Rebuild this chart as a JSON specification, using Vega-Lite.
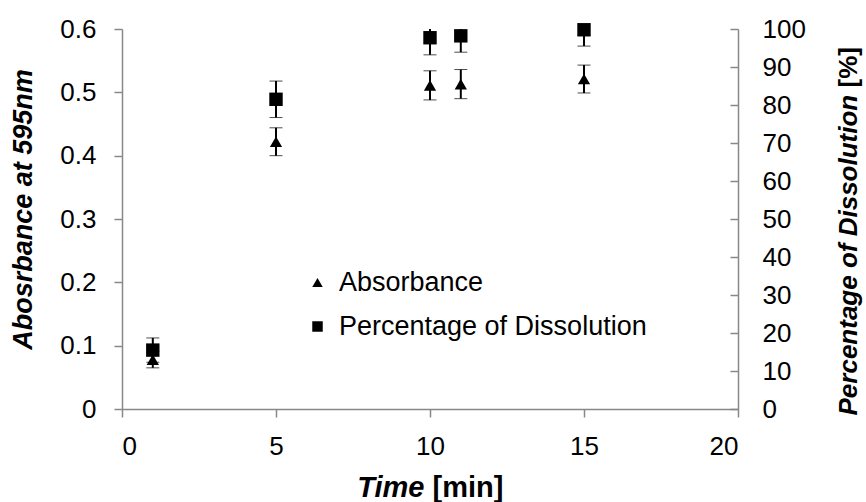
{
  "$schema": "https://vega.github.io/schema/vega-lite/v6.json",
  "autosize": {"type": "none"},
  "padding": {"left": 122, "top": 29, "right": 128, "bottom": 93},
  "width": 616,
  "height": 380,
  "background": "white",
  "config": {
    "view": {"stroke": null},
    "font": "Liberation Sans",
    "axis": {
      "grid": false,
      "domainColor": "#888888",
      "domainWidth": 1.5,
      "tickColor": "#888888",
      "tickWidth": 1.5,
      "tickSize": 8,
      "labelOverlap": false,
      "labelFont": "Liberation Sans",
      "labelFontSize": 26,
      "labelColor": "black",
      "titleFont": "Liberation Sans",
      "titleFontSize": 27,
      "titleFontWeight": "bold",
      "titleFontStyle": "italic",
      "titleColor": "black"
    },
    "legend": {"labelFont": "Liberation Sans", "labelFontSize": 27, "labelColor": "black"}
  },
  "datasets": {
    "abs": [
      {"time": 1, "value": 0.078, "err": 0.013},
      {"time": 5, "value": 0.422, "err": 0.022},
      {"time": 10, "value": 0.511, "err": 0.023},
      {"time": 11, "value": 0.513, "err": 0.023},
      {"time": 15, "value": 0.521, "err": 0.022}
    ],
    "pct": [
      {"time": 1, "value": 15.5, "err": 3.2},
      {"time": 5, "value": 81.5, "err": 4.8},
      {"time": 10, "value": 97.7, "err": 4.5},
      {"time": 11, "value": 98.2, "err": 4.3},
      {"time": 15, "value": 99.8, "err": 4.3}
    ]
  },
  "layer": [
    {
      "data": {"name": "abs"},
      "encoding": {
        "x": {
          "field": "time", "type": "quantitative", "title": "Time",
          "scale": {"domain": [0, 20], "nice": false},
          "axis": {"orient": "bottom", "values": [0, 5, 10, 15, 20], "labelPadding": 16, "titleFontSize": 29, "titleAlign": "right", "titleX": 302, "titleY": 64, "titleBaseline": "top"}
        },
        "y": {
          "field": "value", "type": "quantitative", "title": "Abosrbance at 595nm",
          "scale": {"domain": [0, 0.6], "nice": false},
          "axis": {"orient": "left", "values": [0, 0.1, 0.2, 0.3, 0.4, 0.5, 0.6], "format": "~g", "labelPadding": 18, "titlePadding": 22, "titleY": 180}
        }
      },
      "layer": [
        {
          "mark": {"type": "errorbar", "ticks": {"size": 13, "color": "black", "strokeWidth": 2}, "rule": {"color": "black", "strokeWidth": 2}},
          "encoding": {
            "yError": {"field": "err"}
          }
        },
        {
          "mark": {"type": "point", "filled": true, "opacity": 1, "color": "black", "size": 150},
          "encoding": {
            "shape": {
              "datum": "Absorbance",
              "scale": {"domain": ["Absorbance", "Percentage of Dissolution"], "range": ["triangle-up", "square"]},
              "legend": {"title": null, "orient": "none", "legendX": 182, "legendY": 240, "symbolSize": 110, "symbolFillColor": "black", "symbolStrokeColor": "black", "rowPadding": 16, "labelOffset": 8, "labelLimit": 0}
            }
          }
        }
      ]
    },
    {
      "data": {"name": "pct"},
      "encoding": {
        "x": {
          "field": "time", "type": "quantitative", "title": "[min]",
          "axis": {"orient": "bottom", "labels": false, "ticks": false, "domain": false, "titleFontSize": 29, "titleFontStyle": "normal", "titleAlign": "left", "titleX": 310, "titleY": 64, "titleBaseline": "top"}
        }
      },
      "layer": [
        {
          "mark": {"type": "errorbar", "clip": true, "ticks": {"size": 13, "color": "black", "strokeWidth": 2}, "rule": {"color": "black", "strokeWidth": 2}},
          "encoding": {
            "y": {
              "field": "value", "type": "quantitative", "title": "[%]",
              "scale": {"domain": [0, 100], "nice": false},
              "axis": {"orient": "right", "labels": false, "ticks": false, "domain": false, "titleFontSize": 26, "titleFontStyle": "normal", "titleAngle": 270, "titleBaseline": "top", "titleAlign": "left", "titleX": 97, "titleY": 58}
            },
            "yError": {"field": "err"}
          }
        },
        {
          "mark": {"type": "point", "filled": true, "opacity": 1, "color": "black", "size": 180},
          "encoding": {
            "y": {
              "field": "value", "type": "quantitative", "title": "Percentage of Dissolution",
              "scale": {"domain": [0, 100], "nice": false},
              "axis": {"orient": "right", "values": [0, 10, 20, 30, 40, 50, 60, 70, 80, 90, 100], "tickSize": -8, "labelPadding": 32, "titleFontSize": 26, "titleAngle": 270, "titleBaseline": "top", "titleAlign": "left", "titleX": 97, "titleY": 386}
            },
            "shape": {"datum": "Percentage of Dissolution"}
          }
        }
      ],
      "resolve": {"axis": {"y": "independent"}}
    }
  ],
  "resolve": {"scale": {"y": "independent"}, "axis": {"x": "independent"}}
}
